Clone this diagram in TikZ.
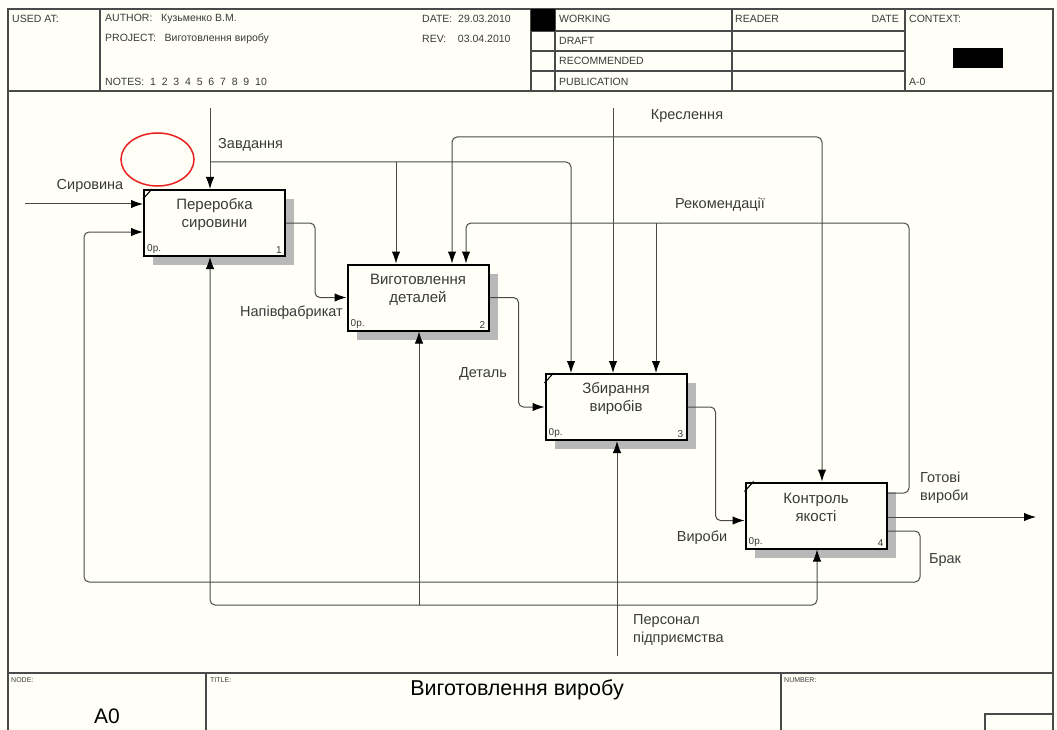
\documentclass[tikz,border=0pt]{standalone}
\usepackage{fontspec}
\setmainfont{Liberation Sans}
\usetikzlibrary{arrows.meta,patterns,shadows,positioning}
\definecolor{idefbg}{HTML}{FFFFF7}
\definecolor{idefline}{HTML}{4A4A4A}
\definecolor{ideftext}{HTML}{3A3A3A}
\definecolor{idefred}{HTML}{E8201E}

\begin{document}
\begin{tikzpicture}[x=1pt,y=-1pt,
  fn/.style={draw=black,line width=2pt,fill=idefbg,minimum width=141pt,minimum height=66pt,inner sep=0pt,
    general shadow={shadow xshift=9pt,shadow yshift=-9pt,fill=black!28}},
  fntxt/.style={align=center,inner sep=0pt,text=ideftext,font=\fontsize{15}{18}\selectfont},
  corner/.style={inner sep=0pt,text=ideftext,font=\fontsize{10}{11}\selectfont},
  arr/.style={draw=idefline,line width=1pt,rounded corners=5pt,-{Latex[length=12pt,width=8.5pt,color=black]}},
  lbl/.style={inner sep=0pt,align=left,text=ideftext,font=\fontsize{14.5}{18}\selectfont},
  hdr/.style={inner sep=0pt,anchor=west,text=ideftext,font=\fontsize{10.5}{12}\selectfont},
  ftr/.style={inner sep=0pt,anchor=west,text=ideftext,font=\fontsize{7}{8}\selectfont},
  frame/.style={draw=idefline,line width=1.1pt}]
  \useasboundingbox (0,0) rectangle (1057,730);
  \fill[idefbg] (0,0) rectangle (1057,730);

  % header and footer
  \draw[frame] (8,740) -- (8,9) -- (1053,9) -- (1053,740);
  \draw[frame] (8,91) -- (1053,91);
  \draw[frame] (100,9) -- (100,91) (531,9) -- (531,91) (555,9) -- (555,91)
    (732,9) -- (732,91) (905,9) -- (905,91);
  \draw[frame] (531,31) -- (905,31) (531,51) -- (905,51) (531,71) -- (905,71);
  \fill[black] (531,9) rectangle (555,31);
  \fill[black] (953,48) rectangle (1003,68);
  \draw[frame] (8,673) -- (1053,673) (206,673) -- (206,740) (781,673) -- (781,740);
  \draw[frame] (985,740) -- (985,714) -- (1053,714);

  \node[hdr] (usedat) at (12,19) {USED AT:};
  \node[hdr] (author) at (105,19) {AUTHOR:\ \ \ Кузьменко В.М.};
  \node[hdr] (project) at (105,39) {PROJECT:\ \ \ Виготовлення виробу};
  \node[hdr] (notes) at (105,82) {NOTES:\ \ 1\ \ 2\ \ 3\ \ 4\ \ 5\ \ 6\ \ 7\ \ 8\ \ 9\ \ 10};
  \node[hdr] (date) at (422,19) {DATE:\ \ 29.03.2010};
  \node[hdr] (rev) at (422,39) {REV:\ \ \ \ 03.04.2010};
  \node[hdr] (working) at (559,19) {WORKING};
  \node[hdr] (draft) at (559,41) {DRAFT};
  \node[hdr] (recomm) at (559,61) {RECOMMENDED};
  \node[hdr] (public) at (559,82) {PUBLICATION};
  \node[hdr] (reader) at (735,19) {READER};
  \node[hdr,anchor=east] (rdate) at (899,19) {DATE};
  \node[hdr] (context) at (909,19) {CONTEXT:};
  \node[hdr] (ctxnode) at (909,82) {A-0};
  \node[ftr] (nodelbl) at (11,680) {NODE:};
  \node[ftr] (titlelbl) at (210,680) {TITLE:};
  \node[ftr] (numlbl) at (784,680) {NUMBER:};
  \node[inner sep=0pt,text=black,font=\fontsize{21}{24}\selectfont] (nodeid) at (107,716) {A0};
  \node[inner sep=0pt,text=black,font=\fontsize{21.5}{24}\selectfont] (title) at (517,690) {Виготовлення виробу};

  % functions
  \node[fn] (box1) at (214.5,223) {};
  \node[fn] (box2) at (418,297.5) {};
  \node[fn] (box3) at (616,407) {};
  \node[fn] (box4) at (816,515.5) {};
  \node[fntxt] (t1) at ([yshift=8pt]box1.center) {Переробка\\сировини};
  \node[fntxt] (t2) at ([yshift=8pt]box2.center) {Виготовлення\\деталей};
  \node[fntxt] (t3) at ([yshift=8pt]box3.center) {Збирання\\виробів};
  \node[fntxt] (t4) at ([yshift=8pt]box4.center) {Контроль\\якості};
  \foreach \b in {1,...,4} {
    \node[corner,anchor=south west] (op\b) at ([shift={(4pt,3pt)}]box\b.south west) {0р.};
    \node[corner,anchor=south east] (nr\b) at ([shift={(-4pt,3pt)}]box\b.south east) {\b};
  }
  \foreach \b in {1,3,4}
    \draw[line width=1.1pt] ([yshift=-10pt]box\b.north west) -- ([xshift=9pt]box\b.north west);

  % ports
  \coordinate (i1a) at ([yshift=19pt]box1.west);
  \coordinate (i1b) at ([yshift=-9pt]box1.west);
  \coordinate (c1) at ([xshift=-4.5pt]box1.north);
  \coordinate (m1) at ([xshift=-4.5pt]box1.south);
  \coordinate (c2a) at ([xshift=-22pt]box2.north);
  \coordinate (c2b) at ([xshift=34pt]box2.north);
  \coordinate (c2c) at ([xshift=48pt]box2.north);
  \coordinate (m2) at ([xshift=1pt]box2.south);
  \coordinate (c3a) at ([xshift=-45pt]box3.north);
  \coordinate (c3b) at ([xshift=-3pt]box3.north);
  \coordinate (c3c) at ([xshift=40pt]box3.north);
  \coordinate (m3) at ([xshift=1pt]box3.south);
  \coordinate (c4) at ([xshift=6pt]box4.north);
  \coordinate (m4) at ([xshift=1pt]box4.south);
  \coordinate (i4) at ([yshift=-5pt]box4.west);
  \coordinate (o4a) at ([yshift=22.5pt]box4.east);
  \coordinate (o4c) at ([yshift=-15.5pt]box4.east);

  % free ends and joints
  \coordinate (sv) at (25,204);
  \coordinate (zv) at (210,108);
  \coordinate (zj) at (210,162);
  \coordinate (kr) at (613,108);
  \coordinate (kj) at (613,137);
  \coordinate (rj) at (909,223);
  \coordinate (bk) at (920,582);
  \coordinate (bkl) at (84,582);
  \coordinate (ps) at (617,656);
  \coordinate (pj) at (617,605);
  \coordinate (gv) at (1036,517);

  % arrows
  \draw[arr] (sv) -- (i1a);
  \draw[arr] (zv) -- (c1);
  \draw[arr] (zj) -| (c3a);
  \draw[arr] (c2a |- zj) -- (c2a);
  \draw[arr] (kr) -- (c3b);
  \draw[arr] (kj) -| (c2b);
  \draw[arr] (kj) -| (c4);
  \draw[arr] (o4a) -| (rj) -| (c2c);
  \draw[arr] (c3c |- rj) -- (c3c);
  \draw[arr] (o4c) -| (bk) -- (bkl) |- (i1b);
  \draw[arr] (ps) -- (m3);
  \draw[arr] (pj) -| (m1);
  \draw[arr] (m2 |- pj) -- (m2);
  \draw[arr] (pj) -| (m4);
  \draw[arr] (box1.east) -- ++(29,0) |- (box2.west);
  \draw[arr] (box2.east) -- ++(29,0) |- (box3.west);
  \draw[arr] (box3.east) -- ++(28,0) |- (i4);
  \draw[arr] (box4.east |- gv) -- (gv);

  % labels
  \node[lbl] (lsv) at (90,186) {Сировина};
  \node[lbl,anchor=west] (lzv) at (218,145) {Завдання};
  \node[lbl,anchor=east] (lnf) at (343,313) {Напівфабрикат};
  \node[lbl] (ldt) at (483,374) {Деталь};
  \node[lbl] (lkr) at (687,116) {Креслення};
  \node[lbl] (lrk) at (720,205) {Рекомендації};
  \node[lbl,anchor=north west] (lgv) at (920,472) {Готові\\вироби};
  \node[lbl] (lvr) at (702,538) {Вироби};
  \node[lbl] (lbr) at (945,560) {Брак};
  \node[lbl,anchor=north west] (lps) at (633,614) {Персонал\\підприємства};

  \draw[idefred,line width=1.5pt] (157.5,159.5) ellipse [x radius=36.5,y radius=26.5];
\end{tikzpicture}
\end{document}
